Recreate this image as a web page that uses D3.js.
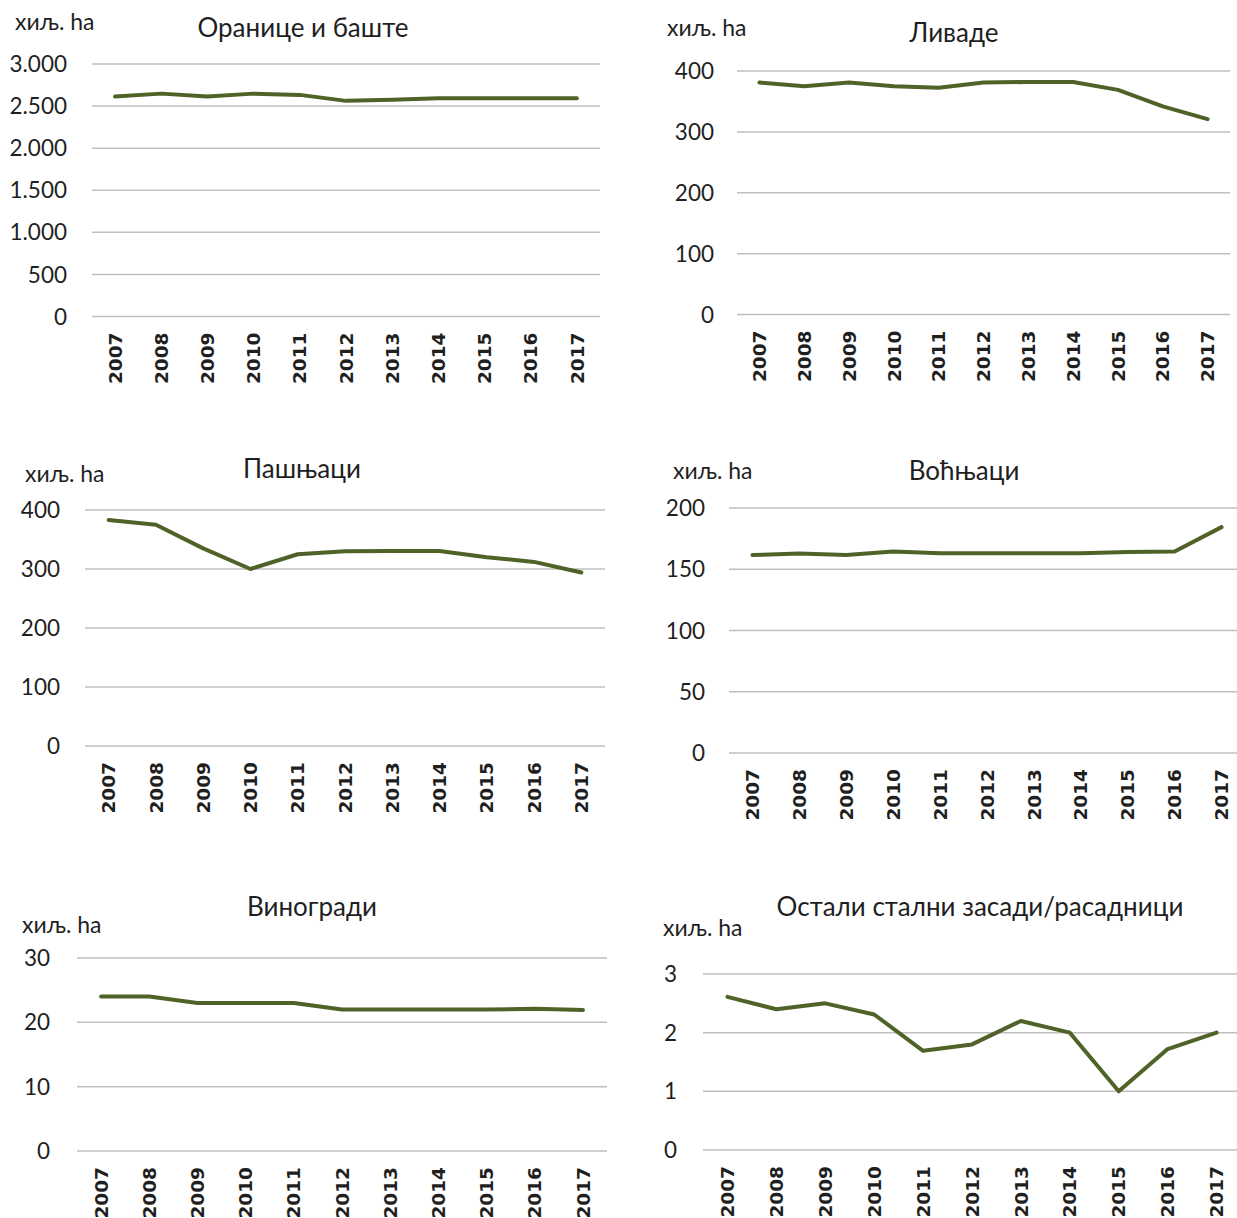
<!DOCTYPE html>
<html><head><meta charset="utf-8">
<script src="https://cdn.jsdelivr.net/npm/d3@7"></script>
<style>
body{margin:0;background:#fff;}
svg{display:block;}
</style></head>
<body>
<svg id="c" width="1237" height="1218"></svg>
<script>
const years = ["2007","2008","2009","2010","2011","2012","2013","2014","2015","2016","2017"];
const titles = ["Оранице и баште","Ливаде","Пашњаци","Воћњаци","Виногради","Остали стални засади/расадници"];
const unitLabel = "хиљ. ha";
const oranice = [2613,2648,2613,2648,2633,2562,2574,2594,2594,2594,2594];
const livade = [381,375,381,375,372.5,381,382,382,369,342,321];
const pasnjaci = [383,375,335,300,325,330,330.5,330.5,320,312,294];
const vocnjaci = [161.6,162.9,161.6,164.5,163,163,163,163,164,164.5,184.4];
const vinogradi = [24,24,23,23,23,22,22,22,22,22.1,21.9];
const ostali = [2.61,2.40,2.50,2.31,1.69,1.80,2.20,2.0,1.0,1.72,2.0];
const ticks1 = [0,500,1000,1500,2000,2500,3000];
const ticks2 = [0,100,200,300,400];
const ticks3 = [0,100,200,300,400];
const ticks4 = [0,50,100,150,200];
const ticks5 = [0,10,20,30];
const ticks6 = [0,1,2,3];

const panels = [
 {data:oranice, ticks:ticks1, title:titles[0], x0:92, x1:600, yTop:64, yBot:316.5, labR:67, unitX:15, unitY:30, titleX:303, titleY:37},
 {data:livade, ticks:ticks2, title:titles[1], x0:737, x1:1230, yTop:71, yBot:314.5, labR:714, unitX:667, unitY:36, titleX:954, titleY:42},
 {data:pasnjaci, ticks:ticks3, title:titles[2], x0:85, x1:605, yTop:510, yBot:746, labR:60, unitX:25, unitY:482, titleX:302, titleY:478},
 {data:vocnjaci, ticks:ticks4, title:titles[3], x0:729, x1:1245, yTop:508, yBot:753, labR:705, unitX:673, unitY:479, titleX:964, titleY:480},
 {data:vinogradi, ticks:ticks5, title:titles[4], x0:77, x1:607, yTop:958, yBot:1151, labR:50, unitX:22, unitY:933, titleX:312, titleY:916},
 {data:ostali, ticks:ticks6, title:titles[5], x0:703, x1:1241, yTop:974, yBot:1150, labR:677, unitX:663, unitY:936, titleX:980, titleY:916}
];

const svg = d3.select("#c");
const fmt = v => d3.format(",")(v).replace(/,/g,".");
const txtFont = "Lato, 'Open Sans', sans-serif";

panels.forEach(p => {
  const g = svg.append("g");
  const x = d3.scalePoint().domain(years).range([p.x0, p.x1]).padding(0.5);
  const ymax = p.ticks[p.ticks.length-1];
  const y = d3.scaleLinear().domain([0, ymax]).range([p.yBot, p.yTop]);

  g.selectAll("line.grid").data(p.ticks).join("line")
    .attr("x1", p.x0).attr("x2", p.x1)
    .attr("y1", d => y(d)).attr("y2", d => y(d))
    .attr("stroke", "#bfbfbf").attr("stroke-width", 1.5);

  g.selectAll("text.yl").data(p.ticks).join("text")
    .attr("x", p.labR).attr("y", d => y(d)).attr("dy", "0.36em")
    .attr("text-anchor", "end")
    .style("font-family", txtFont).style("font-size", "22.5px")
    .attr("fill", "#1f1f1f")
    .text(d => fmt(d));

  g.selectAll("text.xl").data(years).join("text")
    .attr("transform", d => `translate(${x(d)},${p.yBot + 16}) rotate(-90)`)
    .attr("dy", "0.36em")
    .attr("text-anchor", "end")
    .style("font-family", "'DejaVu Sans', sans-serif").style("font-size", "18.5px")
    .style("font-weight", "bold")
    .attr("fill", "#1f1f1f")
    .text(d => d);

  const line = d3.line().x((d,i) => x(years[i])).y(d => y(d));
  g.append("path").datum(p.data).attr("d", line)
    .attr("fill", "none").attr("stroke", "#4f6228").attr("stroke-width", 4)
    .attr("stroke-linejoin", "round").attr("stroke-linecap", "round");

  g.append("text").attr("x", p.titleX).attr("y", p.titleY).attr("text-anchor", "middle")
    .style("font-family", txtFont).style("font-size", "26px")
    .attr("fill", "#1f1f1f").text(p.title);

  g.append("text").attr("x", p.unitX).attr("y", p.unitY)
    .style("font-family", txtFont).style("font-size", "23px")
    .attr("fill", "#1f1f1f").text(unitLabel);
});
</script>
</body></html>
